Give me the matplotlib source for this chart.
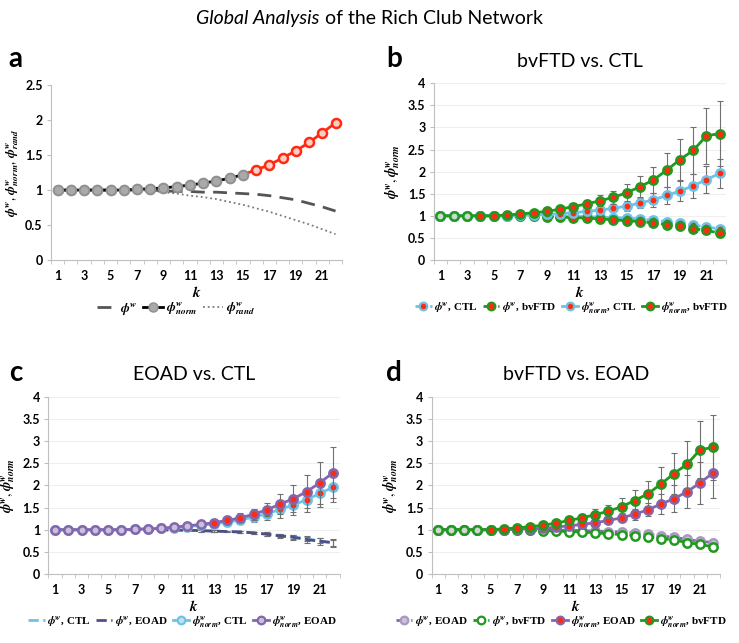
"""
Rich club coefficient panels (a-d), global analysis
"""

import numpy as np
import matplotlib
matplotlib.use("Agg")
import matplotlib.pyplot as plt
from matplotlib.lines import Line2D

plt.rcParams["font.family"] = ["Lato", "DejaVu Sans"]
plt.rcParams["mathtext.fontset"] = "stix"

k = np.arange(1, 23)

# panel a (CTL reference)
phi_w_a = [1.0, 1.0, 1.0, 1.0, 1.0, 1.0, 1.0, 1.0, 0.99, 0.98, 0.98, 0.97,
           0.97, 0.96, 0.95, 0.94, 0.92, 0.89, 0.86, 0.81, 0.76, 0.70]
phi_norm_a = [1.0, 1.0, 1.0, 1.0, 1.0, 1.0, 1.01, 1.02, 1.03, 1.05, 1.07, 1.10,
              1.13, 1.17, 1.22, 1.29, 1.36, 1.46, 1.56, 1.68, 1.82, 1.96]
phi_rand_a = [1.0, 1.0, 1.0, 1.0, 1.0, 1.0, 1.0, 0.99, 0.97, 0.95, 0.92, 0.90,
              0.87, 0.83, 0.79, 0.74, 0.69, 0.63, 0.57, 0.51, 0.44, 0.37]

# group curves
phi_w_ctl = [1.0, 1.0, 1.0, 1.0, 1.0, 1.0, 1.0, 1.0, 1.0, 0.99, 0.99, 0.98,
             0.97, 0.96, 0.95, 0.93, 0.90, 0.87, 0.84, 0.79, 0.75, 0.70]
phi_w_ctl_err = [0.0, 0.0, 0.0, 0.0, 0.0, 0.0, 0.0, 0.01, 0.01, 0.01, 0.01, 0.02,
                 0.02, 0.02, 0.03, 0.03, 0.04, 0.04, 0.05, 0.05, 0.06, 0.07]
phi_w_ftd = [1.0, 1.0, 1.0, 1.0, 1.0, 1.0, 1.0, 0.99, 0.98, 0.97, 0.96, 0.95,
             0.93, 0.91, 0.89, 0.87, 0.84, 0.80, 0.77, 0.71, 0.67, 0.61]
phi_w_ftd_err = [0.0, 0.0, 0.0, 0.0, 0.0, 0.0, 0.01, 0.01, 0.01, 0.01, 0.02, 0.02,
                 0.02, 0.03, 0.03, 0.04, 0.04, 0.05, 0.06, 0.07, 0.08, 0.09]
phi_w_ad = [1.0, 1.0, 1.0, 1.0, 1.0, 1.0, 1.0, 1.0, 1.0, 0.99, 0.99, 0.98,
            0.97, 0.96, 0.95, 0.93, 0.90, 0.86, 0.83, 0.78, 0.74, 0.71]
phi_w_ad_err = [0.0, 0.0, 0.0, 0.0, 0.0, 0.0, 0.0, 0.01, 0.01, 0.01, 0.01, 0.02,
                0.02, 0.02, 0.03, 0.03, 0.04, 0.05, 0.06, 0.07, 0.08, 0.09]

phi_norm_ctl = phi_norm_a
phi_norm_ctl_err = [0.0, 0.0, 0.0, 0.0, 0.0, 0.01, 0.01, 0.01, 0.02, 0.03, 0.04, 0.05,
                    0.06, 0.08, 0.10, 0.12, 0.15, 0.19, 0.23, 0.27, 0.30, 0.33]
phi_norm_ftd = [1.0, 1.0, 1.0, 1.0, 1.0, 1.02, 1.04, 1.07, 1.10, 1.15, 1.21, 1.27,
                1.34, 1.42, 1.52, 1.66, 1.81, 2.03, 2.27, 2.48, 2.81, 2.86]
phi_norm_ftd_err = [0.0, 0.0, 0.0, 0.0, 0.01, 0.01, 0.02, 0.03, 0.04, 0.05, 0.07, 0.09,
                    0.12, 0.15, 0.19, 0.24, 0.29, 0.38, 0.47, 0.53, 0.64, 0.73]
phi_norm_ad = [1.0, 1.0, 1.0, 1.0, 1.0, 1.0, 1.01, 1.02, 1.03, 1.06, 1.09, 1.12,
               1.16, 1.21, 1.27, 1.35, 1.45, 1.58, 1.70, 1.86, 2.06, 2.29]
phi_norm_ad_err = [0.0, 0.0, 0.0, 0.0, 0.0, 0.0, 0.01, 0.01, 0.01, 0.02, 0.03, 0.04,
                   0.05, 0.07, 0.10, 0.12, 0.15, 0.22, 0.30, 0.37, 0.47, 0.58]

x_labels = [str(v) if v % 2 == 1 else "" for v in k]

BLUE = "#6cc3e6"
GREEN = "#1f9a1f"
PURPLE = "#8466ad"
LAV = "#cbbfdc"
DPURP = "#4f4f86"
RED = "#ff2a12"
ERR = "#707070"

fig = plt.figure(figsize=(7.39, 6.43), dpi=100)


def style_axes(ax, ymax, grid=True):
    ax.set_xlim(0.5, 22.5)
    ax.set_ylim(0, ymax)
    ax.set_yticks(np.arange(0, ymax + 0.01, 0.5))
    ax.set_yticklabels([f"{v:g}" for v in np.arange(0, ymax + 0.01, 0.5)])
    ax.set_xticks(k)
    ax.set_xticklabels(x_labels)
    ax.set_xticks(np.arange(0.5, 23, 1), minor=True)
    ax.tick_params(axis="x", which="major", length=0, pad=7)
    ax.tick_params(axis="x", which="minor", length=3, color="#bfbfbf")
    ax.tick_params(axis="y", length=3, color="#bfbfbf", pad=3)
    for lab in ax.get_xticklabels() + ax.get_yticklabels():
        lab.set_fontweight("bold")
        lab.set_fontsize(9)
    for s in ["top", "right"]:
        ax.spines[s].set_visible(False)
    for s in ["left", "bottom"]:
        ax.spines[s].set_color("#bfbfbf")
    if grid:
        ax.yaxis.grid(True, color="#efefef", lw=0.8)
        ax.set_axisbelow(True)
    ax.set_xlabel(r"$\boldsymbol{k}$", fontsize=11, labelpad=2)


def series(ax, y, err, color, ls, edge, fills, z, ms=6):
    y = np.asarray(y)
    if err is not None:
        ax.errorbar(k, y, yerr=err, fmt="none", ecolor=ERR, elinewidth=0.8,
                    capsize=2, capthick=0.8, zorder=z - 0.5)
    ax.plot(k, y, color=color, ls=ls, lw=2, zorder=z)
    if fills is not None:
        for i, fc in enumerate(fills):
            ax.plot(k[i], y[i], "o", ms=ms, mfc=fc, mec=edge, mew=1.8, zorder=z + 0.1)


def fills_from(start, light):
    return [light if kk < start else RED for kk in k]


def legend(ax, handles, labels, xc, size=8):
    ax.legend(handles, labels, loc="upper center", bbox_to_anchor=(xc, -0.2),
              ncol=len(handles), frameon=False, handlelength=1.5,
              columnspacing=0.45, handletextpad=0.25, borderaxespad=0,
              prop={"family": "Liberation Serif", "weight": "bold", "size": size})


def h(color, ls, mfc=None, mec=None):
    if mfc is None:
        return Line2D([], [], color=color, ls=ls, lw=2)
    return Line2D([], [], color=color, ls=ls, lw=2, marker="o", ms=5.5,
                  mfc=mfc, mec=mec, mew=1.6)


PW = r"$\boldsymbol{\phi}^{\boldsymbol{w}}$"
PN = r"$\boldsymbol{\phi}^{\boldsymbol{w}}_{\boldsymbol{norm}}$"
PR = r"$\boldsymbol{\phi}^{\boldsymbol{w}}_{\boldsymbol{rand}}$"
YL2 = r"$\boldsymbol{\phi}^{\boldsymbol{w}},\boldsymbol{\phi}^{\boldsymbol{w}}_{\boldsymbol{norm}}$"

# main title: italic part + regular part, centred together
t1 = fig.text(0, 0.972, "Global Analysis", style="italic", fontsize=14, va="center")
t2 = fig.text(0, 0.972, " of the Rich Club Network", fontsize=14, va="center")
fig.canvas.draw()
r = fig.canvas.get_renderer()
w1 = t1.get_window_extent(r).width / fig.bbox.width
w2 = t2.get_window_extent(r).width / fig.bbox.width
x0 = 0.5 - (w1 + w2) / 2
t1.set_x(x0)
t2.set_x(x0 + w1)

# ---- panel a
ax = fig.add_axes([0.069, 0.5956, 0.394, 0.272])
style_axes(ax, 2.5, grid=False)
ax.plot(k, phi_rand_a, color="#7a7a7a", ls=":", lw=1.3, zorder=2)
ax.plot(k, phi_w_a, color="#555555", ls=(0, (5, 3)), lw=2, zorder=2)
ax.plot(k[:15], phi_norm_a[:15], color="black", lw=2, zorder=3)
ax.plot(k[14:], phi_norm_a[14:], color=RED, lw=2, zorder=3)
for i in range(22):
    if k[i] <= 15:
        ax.plot(k[i], phi_norm_a[i], "o", ms=7, mfc="#a9a9a9", mec="#8f8f8f", mew=1.4, zorder=4)
    else:
        ax.plot(k[i], phi_norm_a[i], "o", ms=6.5, mfc="#f6d0c8", mec=RED, mew=1.8, zorder=4)
ax.set_ylabel(PW + ", " + PN + ", " + PR, fontsize=9.5, labelpad=3)
legend(ax, [Line2D([], [], color="#555555", ls=(0, (5, 3)), lw=2),
            Line2D([], [], color="black", lw=2, marker="o", ms=6.5, mfc="#a9a9a9", mec="#8f8f8f"),
            Line2D([], [], color="#7a7a7a", ls=":", lw=1.3)],
       [PW, PN, PR], 0.43, size=9.5)
fig.text(0.012, 0.896, "a", fontsize=20, fontweight="bold")

# ---- panel b
ax = fig.add_axes([0.587, 0.5956, 0.396, 0.275])
style_axes(ax, 4)
series(ax, phi_w_ctl, phi_w_ctl_err, BLUE, "--", BLUE, fills_from(4, "#c9dcd4"), 3)
series(ax, phi_w_ftd, phi_w_ftd_err, GREEN, "--", GREEN, fills_from(4, "#c9dcd4"), 4)
series(ax, phi_norm_ctl, phi_norm_ctl_err, BLUE, "-", BLUE, fills_from(4, "#c9dcd4"), 5)
series(ax, phi_norm_ftd, phi_norm_ftd_err, GREEN, "-", GREEN, fills_from(4, "#c9dcd4"), 6)
ax.set_ylabel(YL2, fontsize=10, labelpad=4)
ax.set_title("bvFTD vs. CTL", fontsize=14, pad=12)
legend(ax, [h(BLUE, "--", RED, BLUE), h(GREEN, "--", RED, GREEN),
            h(BLUE, "-", RED, BLUE), h(GREEN, "-", RED, GREEN)],
       [PW + ", CTL", PW + ", bvFTD", PN + ", CTL", PN + ", bvFTD"], 0.47)
fig.text(0.523, 0.896, "b", fontsize=20, fontweight="bold")

# ---- panel c
ax = fig.add_axes([0.0656, 0.1073, 0.394, 0.2753])
style_axes(ax, 4)
series(ax, phi_w_ctl, phi_w_ctl_err, BLUE, "--", BLUE, None, 3)
series(ax, phi_w_ad, phi_w_ad_err, DPURP, "--", DPURP, None, 4)
series(ax, phi_norm_ctl, phi_norm_ctl_err, BLUE, "-", BLUE, fills_from(13, "#bfe2ef"), 5)
series(ax, phi_norm_ad, phi_norm_ad_err, PURPLE, "-", PURPLE, fills_from(13, LAV), 6)
ax.set_ylabel(YL2, fontsize=10, labelpad=4)
ax.set_title("EOAD vs. CTL", fontsize=14, pad=12)
legend(ax, [h(BLUE, "--"), h(DPURP, "--"),
            h(BLUE, "-", "#bfe2ef", BLUE), h(PURPLE, "-", LAV, PURPLE)],
       [PW + ", CTL", PW + ", EOAD", PN + ", CTL", PN + ", EOAD"], 0.46)
fig.text(0.012, 0.408, "c", fontsize=20, fontweight="bold")

# ---- panel d
ax = fig.add_axes([0.584, 0.1073, 0.390, 0.2753])
style_axes(ax, 4)
series(ax, phi_w_ad, phi_w_ad_err, PURPLE, "--", "#a898c0", [LAV] * 22, 3)
series(ax, phi_w_ftd, phi_w_ftd_err, GREEN, "--", GREEN, ["white"] * 22, 4)
series(ax, phi_norm_ad, phi_norm_ad_err, PURPLE, "-", PURPLE, fills_from(5, "#d0d0d0"), 5)
series(ax, phi_norm_ftd, phi_norm_ftd_err, GREEN, "-", GREEN, fills_from(5, "#d0d8d0"), 6)
ax.set_ylabel(YL2, fontsize=10, labelpad=4)
ax.set_title("bvFTD vs. EOAD", fontsize=14, pad=12)
legend(ax, [h(PURPLE, "--", LAV, "#a898c0"), h(GREEN, "--", "white", GREEN),
            h(PURPLE, "-", RED, PURPLE), h(GREEN, "-", RED, GREEN)],
       [PW + ", EOAD", PW + ", bvFTD", PN + ", EOAD", PN + ", bvFTD"], 0.45)
fig.text(0.523, 0.408, "d", fontsize=20, fontweight="bold")

fig.savefig("out.png", dpi=100)
